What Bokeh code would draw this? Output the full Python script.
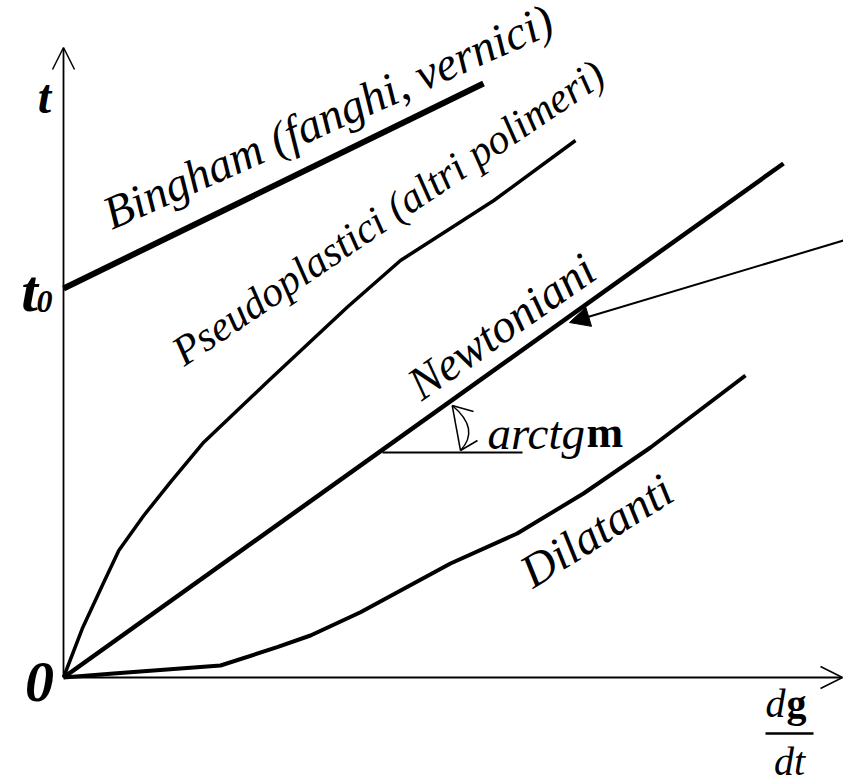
from bokeh.plotting import figure
from bokeh.models import Range1d, Arrow, OpenHead, NormalHead
from bokeh.core.properties import value
from bokeh.embed import file_html
from bokeh.resources import INLINE

# ---- data (drawing units: x = shear rate dγ/dt, y = shear stress τ) ----
bingham_x = [0, 420]
bingham_y = [389, 594]

pseudo_x = [0, 18.7, 40.3, 55.3, 80.3, 107, 140.3, 173.7, 205.3, 283.7, 337, 383.7, 430.3, 512]
pseudo_y = [0, 48.7, 95.3, 127, 162, 195.3, 235.3, 267, 297, 370.3, 417, 447, 477, 537]

newton_x = [0, 720]
newton_y = [0, 514]

dilat_x = [0, 50, 157, 213.7, 247, 297, 387, 453.7, 520, 587, 682]
dilat_y = [0, 4, 12, 30.3, 42, 65.3, 114, 144, 184, 230, 302]

# horizontal reference for the slope angle
ref_x = [319, 459]
ref_y = [225, 225]

# axis extents
xaxis_end = 779
yaxis_end = 630

# pointer arrow (start, end)
ptr_start = (780, 437)
ptr_end = (506, 355)

# angle marker arc (top point, bottom point, control point)
arc_top = (388.7, 272)
arc_bot = (397, 227)
arc_ctl = (417, 248.5)
arc_wing_top = (410, 266)
arc_wing_bot = (414, 237)

FONT = value("Liberation Serif")

p = figure(width=843, height=777, output_backend="svg", toolbar_location=None,
           x_range=Range1d(-63, 780), y_range=Range1d(-100, 677),
           min_border=0, outline_line_color=None, background_fill_color="white")
p.axis.visible = False
p.xgrid.visible = False
p.ygrid.visible = False

# axes with arrows
p.add_layout(Arrow(end=OpenHead(size=22, line_width=1.5, line_color="black"),
                   x_start=0, y_start=0, x_end=0, y_end=yaxis_end,
                   line_width=1.8, line_color="black"))
p.add_layout(Arrow(end=OpenHead(size=22, line_width=1.5, line_color="black"),
                   x_start=0, y_start=0, x_end=xaxis_end, y_end=0,
                   line_width=1.8, line_color="black"))

# curves
p.line(bingham_x, bingham_y, line_width=6, line_color="black")
p.line(pseudo_x, pseudo_y, line_width=3.5, line_color="black")
p.line(newton_x, newton_y, line_width=4.5, line_color="black")
p.line(dilat_x, dilat_y, line_width=4, line_color="black")
p.line(ref_x, ref_y, line_width=2, line_color="black")

# angle marker
p.quadratic(x0=[arc_top[0]], y0=[arc_top[1]], x1=[arc_bot[0]], y1=[arc_bot[1]],
            cx=[arc_ctl[0]], cy=[arc_ctl[1]], line_width=1.5, line_color="black")
p.segment(x0=[arc_top[0], arc_top[0], arc_bot[0]],
          y0=[arc_top[1], arc_top[1], arc_bot[1]],
          x1=[arc_bot[0], arc_wing_top[0], arc_wing_bot[0]],
          y1=[arc_bot[1], arc_wing_top[1], arc_wing_bot[1]],
          line_width=1.5, line_color="black")

# pointer arrow
p.add_layout(Arrow(end=NormalHead(size=20, fill_color="black", line_color="black"),
                   x_start=ptr_start[0], y_start=ptr_start[1],
                   x_end=ptr_end[0], y_end=ptr_end[1],
                   line_width=2, line_color="black"))

# rotated curve labels
def label(x, y, txt, ang, size, style="italic", align="left"):
    p.text(x=[x], y=[y], text=[txt], angle=ang, angle_units="deg",
           text_font=FONT, text_font_style=style, text_font_size=size,
           text_align=align, text_baseline="alphabetic", text_color="black")

label(42, 462, "Bingham (fanghi, vernici)", 24, "47px")
label(113, 322, "Pseudoplastici (altri polimeri)", 34, "42px")
label(349, 289, "Newtoniani", 35, "47px")
label(461, 102, "Dilatanti", 32, "47px")

# arctg m
label(424, 245, "arctg", 0, "47px")
label(523, 245, "m", 0, "44px", "bold")

# axis symbols
label(-19, 581, "t", 0, "48px", "bold italic", "center")
label(-34, 387, "t", 0, "60px", "bold italic", "center")
label(-27, 376, "0", 0, "32px", "bold italic")
label(-24, -4, "0", 0, "58px", "bold italic", "center")

# dγ/dt
label(702, -26, "d", 0, "40px")
label(723, -26, "g", 0, "40px", "bold")
p.segment(x0=[702], y0=[-56], x1=[750], y1=[-56], line_width=2.5, line_color="black")
label(726, -84, "dt", 0, "40px", "italic", "center")

open("out.html", "w").write(file_html(p, INLINE))
